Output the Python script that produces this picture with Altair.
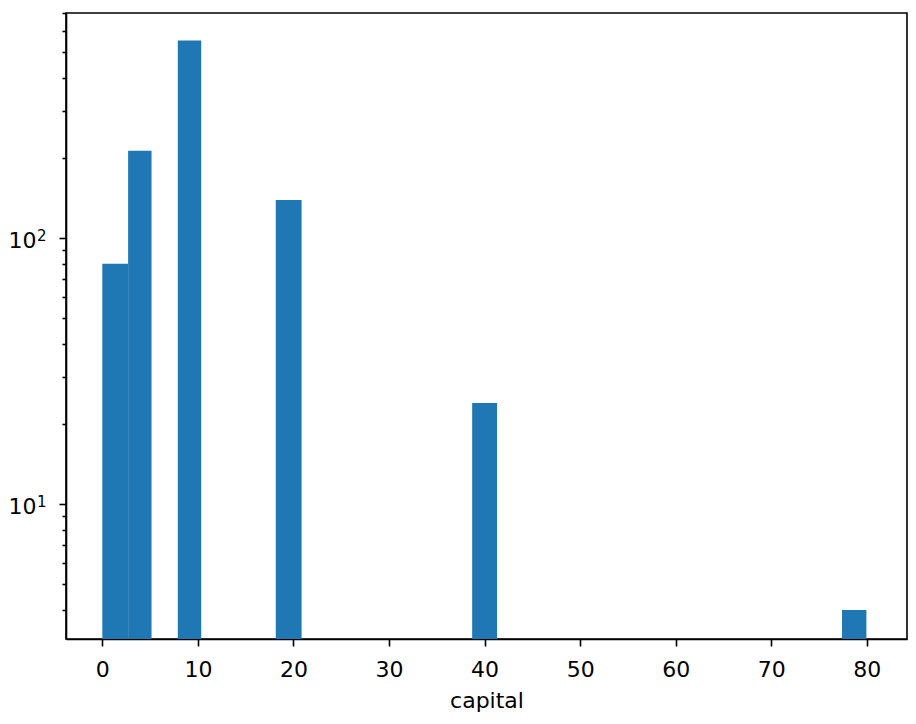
import altair as alt
import pandas as pd

# Histogram bars (capital bins, counts on log scale)
bin_left = [0.0, 2.7, 7.9, 18.15, 38.7, 77.4]
bin_right = [2.7, 5.15, 10.35, 20.85, 41.3, 79.95]
counts = [80, 213, 552, 139, 24, 4]

x_ticks = [0, 10, 20, 30, 40, 50, 60, 70, 80]
y_major = [10, 100]
y_minor = [4, 5, 6, 7, 8, 9, 20, 30, 40, 50, 60, 70, 80, 90,
           200, 300, 400, 500, 600, 700]

df = pd.DataFrame({"left": bin_left, "right": bin_right, "count": counts})

BLUE = "#1f77b4"
FONT = "DejaVu Sans"

xscale = alt.Scale(domain=[-3.8, 84.2], nice=False, zero=False)
yscale = alt.Scale(type="log", domain=[3.11, 701], nice=False)

base = alt.Chart(df)

bars = base.mark_bar(color=BLUE, clip=True).encode(
    x=alt.X("left:Q", scale=xscale,
            axis=alt.Axis(values=x_ticks, format="d", tickSize=7, labelPadding=13,
                          title="capital", titlePadding=10, grid=False)),
    x2="right:Q",
    y=alt.Y("count:Q", scale=yscale,
            axis=alt.Axis(values=y_major, orient="left", tickSize=7, labelPadding=23,
                          labelExpr="'10'", labelOffset=2,
                          title=None, grid=False)),
    y2=alt.datum(1),
)

# minor log ticks
minor = base.mark_bar(opacity=0, clip=True).encode(
    x=alt.X("left:Q", scale=xscale),
    x2="right:Q",
    y=alt.Y("count:Q", scale=yscale,
            axis=alt.Axis(values=y_minor, orient="left", tickSize=4, labels=False,
                          domain=False, title=None, grid=False)),
    y2=alt.datum(1),
)

# exponent superscripts of the 10^n labels
sup = base.mark_bar(opacity=0, clip=True).encode(
    x=alt.X("left:Q", scale=xscale),
    x2="right:Q",
    y=alt.Y("count:Q", scale=yscale,
            axis=alt.Axis(values=y_major, orient="left", ticks=False, domain=False,
                          labelPadding=20, labelFontSize=15, labelOffset=-3,
                          labelExpr="datum.value == 10 ? '1' : '2'",
                          title=None, grid=False)),
    y2=alt.datum(1),
)

chart = alt.layer(bars, minor, sup).resolve_scale(y="shared").resolve_axis(
    y="independent"
).properties(
    width=841,
    height=626,
    padding={"left": 58, "top": 5, "right": 1, "bottom": 80},
    autosize=alt.AutoSizeParams(type="none"),
).configure_view(
    stroke="black", strokeWidth=1.6
).configure_axis(
    domainColor="black", domainWidth=1.6, tickColor="black", tickWidth=1.6,
    labelFont=FONT, labelFontSize=22, labelColor="black",
    titleFont=FONT, titleFontSize=22, titleColor="black", titleFontWeight="normal",
)

chart.save("out.html", embed_options={"renderer": "svg", "actions": False})
